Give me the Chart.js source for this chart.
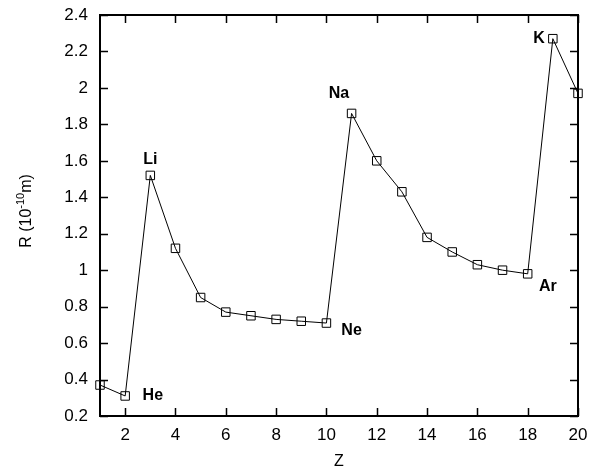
<!DOCTYPE html>
<html>
<head>
<meta charset="utf-8">
<script src="https://cdn.jsdelivr.net/npm/chart.js@4.4.0/dist/chart.umd.min.js"></script>
<style>
  html, body { margin: 0; padding: 0; background: #fff; }
  #wrap { width: 592px; height: 472px; position: relative; }
</style>
</head>
<body>
<div id="wrap"><canvas id="chart"></canvas></div>
<script>
// atomic number vs radius
const atomicNumbers = [1, 2, 3, 4, 5, 6, 7, 8, 9, 10, 11, 12, 13, 14, 15, 16, 17, 18, 19, 20];
const radii = [0.37, 0.31, 1.52, 1.12, 0.85, 0.77, 0.75, 0.73, 0.72, 0.71,
               1.86, 1.60, 1.43, 1.18, 1.10, 1.03, 1.00, 0.98, 2.27, 1.97];
const xTicks = [2, 4, 6, 8, 10, 12, 14, 16, 18, 20];
const yTicks = [0.2, 0.4, 0.6, 0.8, 1.0, 1.2, 1.4, 1.6, 1.8, 2.0, 2.2, 2.4];
const elementNames = ['Li', 'He', 'Na', 'Ne', 'K', 'Ar'];
const elementX = [3.0, 3.1, 10.5, 11.0, 18.45, 18.8];
const elementY = [1.607, 0.31, 1.97, 0.67, 2.27, 0.91];

const FONT = '"Liberation Sans", Arial, sans-serif';

// frame, inward ticks, annotations and axis titles
const framePlugin = {
    id: 'frame',
    afterDraw(chart) {
        const ctx = chart.ctx;
        const a = chart.chartArea;
        const xs = chart.scales.x, ys = chart.scales.y;
        const tl = 8;
        ctx.save();
        ctx.strokeStyle = '#000';
        ctx.lineWidth = 1.5;
        ctx.beginPath();
        xTicks.forEach(v => {
            const px = Math.round(xs.getPixelForValue(v)) + 0.5;
            ctx.moveTo(px, a.bottom); ctx.lineTo(px, a.bottom - tl);
            ctx.moveTo(px, a.top); ctx.lineTo(px, a.top + tl);
        });
        yTicks.forEach(v => {
            const py = Math.round(ys.getPixelForValue(v)) + 0.5;
            ctx.moveTo(a.left, py); ctx.lineTo(a.left + tl, py);
            ctx.moveTo(a.right, py); ctx.lineTo(a.right - tl, py);
        });
        ctx.stroke();
        ctx.lineWidth = 2;
        ctx.strokeRect(a.left, a.top, a.right - a.left, a.bottom - a.top);

        // element labels
        ctx.fillStyle = '#000';
        ctx.font = 'bold 16px ' + FONT;
        ctx.textAlign = 'center';
        ctx.textBaseline = 'middle';
        elementNames.forEach((name, i) => {
            ctx.fillText(name, xs.getPixelForValue(elementX[i]), ys.getPixelForValue(elementY[i]));
        });

        // x title
        ctx.font = '16px ' + FONT;
        ctx.fillText('Z', (a.left + a.right) / 2, 462);

        // y title with superscript
        ctx.translate(25, 211);
        ctx.rotate(-Math.PI / 2);
        const p1 = 'R (10', sup = '-10', p2 = 'm)';
        ctx.font = '16px ' + FONT;
        const w1 = ctx.measureText(p1).width;
        const w3 = ctx.measureText(p2).width;
        ctx.font = '11px ' + FONT;
        const w2 = ctx.measureText(sup).width;
        let x0 = -(w1 + w2 + w3) / 2;
        ctx.textAlign = 'left';
        ctx.textBaseline = 'alphabetic';
        ctx.font = '16px ' + FONT;
        ctx.fillText(p1, x0, 6);
        ctx.font = '11px ' + FONT;
        ctx.fillText(sup, x0 + w1, -1);
        ctx.font = '16px ' + FONT;
        ctx.fillText(p2, x0 + w1 + w2, 6);
        ctx.restore();
    }
};

new Chart(document.getElementById('chart'), {
    type: 'scatter',
    data: {
        datasets: [{
            data: atomicNumbers.map((z, i) => ({ x: z, y: radii[i] })),
            showLine: true,
            borderColor: '#000',
            borderWidth: 1,
            pointStyle: 'rect',
            pointRadius: 6,
            pointHoverRadius: 6,
            pointBackgroundColor: 'rgba(0,0,0,0)',
            pointBorderColor: '#000',
            pointBorderWidth: 1
        }]
    },
    options: {
        responsive: true,
        maintainAspectRatio: false,
        animation: false,
        clip: false,
        layout: { padding: { left: 0, right: 14, top: 15, bottom: 0 } },
        plugins: {
            legend: { display: false },
            tooltip: { enabled: false }
        },
        scales: {
            x: {
                type: 'linear',
                min: 1,
                max: 20,
                afterBuildTicks: scale => { scale.ticks = xTicks.map(v => ({ value: v })); },
                afterFit: scale => {
                    scale.height = 56;
                    scale.paddingLeft = 0; scale.paddingRight = 0;
                    scale.paddingTop = 0; scale.paddingBottom = 0;
                },
                grid: { display: false, drawTicks: false },
                border: { display: false },
                ticks: {
                    padding: 9,
                    color: '#000',
                    font: { family: FONT, size: 17 },
                    maxRotation: 0
                }
            },
            y: {
                type: 'linear',
                min: 0.2,
                max: 2.4,
                afterBuildTicks: scale => { scale.ticks = yTicks.map(v => ({ value: v })); },
                afterFit: scale => {
                    scale.width = 100;
                    scale.paddingLeft = 0; scale.paddingRight = 0;
                    scale.paddingTop = 0; scale.paddingBottom = 0;
                },
                grid: { display: false, drawTicks: false },
                border: { display: false },
                ticks: {
                    padding: 12,
                    color: '#000',
                    font: { family: FONT, size: 17 },
                    callback: v => String(Math.round(v * 10) / 10)
                }
            }
        }
    },
    plugins: [framePlugin]
});
</script>
</body>
</html>
